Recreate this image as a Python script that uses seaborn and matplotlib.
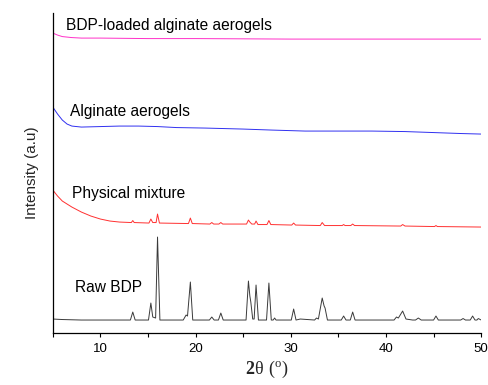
import pandas as pd
import matplotlib
matplotlib.use('Agg')
import matplotlib.pyplot as plt
import seaborn as sns

# XRD patterns (2theta in degrees, intensity in arbitrary units)
raw_2theta = [5, 6, 8, 10, 12,
              13.15, 13.4, 13.65, 15.05, 15.3, 15.5, 15.8, 16.0, 16.25,
              18.7, 19.0, 19.15, 19.45, 19.7, 21.45, 21.7, 21.95, 22.4, 22.65, 22.9,
              25.3, 25.55, 25.7, 25.8, 26.0, 26.15, 26.35, 26.6, 27.45, 27.7, 27.95,
              28.15, 28.3, 28.45, 30.05, 30.3, 30.55, 31.0, 32.5, 32.7, 32.9,
              33.3, 33.5, 33.6, 33.85, 35.3, 35.55, 35.8, 36.25, 36.5, 36.75,
              40.85, 41.1, 41.3, 41.75, 42.1, 42.8, 43.1, 43.4, 43.7, 45.0, 45.25, 45.5,
              47.85, 48.1, 48.35, 48.85, 49.1, 49.35, 49.55, 49.7, 50]
raw_int = [14, 13.5, 13, 13, 13,
           13, 21, 13, 13, 30, 16, 15, 96, 13,
           13, 18, 17, 51, 13, 13, 16, 13, 13, 20, 13,
           13, 52, 37, 31, 14, 14, 48, 13, 13, 50, 13,
           13, 15, 13, 13, 24, 13, 14, 13, 15, 14,
           35, 27, 25, 13, 13, 17, 13, 13, 21, 13,
           13, 16, 15, 22, 14, 13, 13, 15, 13, 13, 17, 13,
           13, 14.5, 13, 13, 17, 13, 13, 14.5, 13]

mix_2theta = [5, 5.5, 6, 7, 8, 9, 10, 11, 12, 13.25, 13.4, 13.55,
              15.1, 15.3, 15.5, 15.85, 16.0, 16.2, 19.25, 19.45, 19.65,
              21.5, 21.7, 21.9, 22.45, 22.65, 22.85, 25.35, 25.55, 25.7, 25.9,
              26.2, 26.35, 26.55, 27.5, 27.7, 27.9, 30.1, 30.3, 30.5,
              33.1, 33.3, 33.55, 35.4, 35.55, 35.7, 36.3, 36.5, 36.7,
              41.55, 41.75, 42.0, 45.1, 45.25, 45.4, 50]
mix_int = [143, 137, 132, 126, 121, 117, 114, 112, 111, 110.5, 112.5, 110.5,
           110, 114, 110.5, 110.5, 119, 110, 109.5, 115, 109.5,
           109, 110.5, 109, 109, 110.5, 109, 109, 113, 111, 109,
           109, 112, 108.5, 108.5, 112.5, 108.5, 108, 110, 108,
           107.5, 110.5, 107.5, 107.5, 108.5, 107.5, 107.5, 109, 107.5,
           107, 108.5, 107, 106.5, 107.5, 106.5, 106]

alg_2theta = [5, 5.5, 6, 6.5, 7, 8, 10, 12, 14, 16, 18, 21, 25, 28, 31.5, 35, 38.5, 42, 45, 48, 50]
alg_int = [226, 219, 213, 209, 207, 206, 206.5, 207, 207, 206.5, 205.5, 205, 204, 203, 202,
           202, 202, 201.5, 200.5, 199.5, 199]

load_2theta = [5, 5.5, 6, 7, 8, 10, 15, 20, 30, 40, 50]
load_int = [300, 298, 296.5, 295.5, 295, 295, 294.5, 294.5, 294, 294, 294]

names = ['Raw BDP', 'Physical mixture', 'Alginate aerogels', 'BDP-loaded alginate aerogels']
colors = ['#3a3a3a', '#ff3030', '#3030f0', '#ff30c8']

frames = []
for name, x, y in zip(names, [raw_2theta, mix_2theta, alg_2theta, load_2theta],
                      [raw_int, mix_int, alg_int, load_int]):
    frames.append(pd.DataFrame({'2theta': x, 'intensity': y, 'sample': name}))
df = pd.concat(frames, ignore_index=True)

sns.set_style('ticks')
plt.rcParams['font.family'] = ['Liberation Sans', 'DejaVu Sans']
plt.rcParams['mathtext.fontset'] = 'custom'
plt.rcParams['mathtext.rm'] = 'Liberation Serif'
plt.rcParams['mathtext.bf'] = 'Liberation Serif:bold'

fig = plt.figure(figsize=(4.89, 3.85), dpi=100)
ax = fig.add_axes([0.108, 0.135, 0.876, 0.831])

sns.lineplot(data=df, x='2theta', y='intensity', hue='sample', palette=dict(zip(names, colors)),
             estimator=None, sort=False, linewidth=0.7, legend=False, ax=ax)

# curve labels
label_pos = [(7.3, 46), (7.0, 140), (6.8, 222), (6.4, 308)]
for name, (lx, ly) in zip(names, label_pos):
    ax.text(lx, ly, name, fontsize=11.2, ha='left', va='center', color='black')

ax.set_xlim(5, 50)
ax.set_ylim(0, 320)
ax.set_xticks([5, 10, 15, 20, 25, 30, 35, 40, 45, 50])
ax.set_xticklabels(['', '10', '', '20', '', '30', '', '40', '', '50'], fontsize=9.5)
ax.set_yticks([])
ax.tick_params(axis='x', direction='out', length=3, width=0.8, colors='black', pad=4)
sns.despine(ax=ax)
ax.spines['left'].set_color('black')
ax.spines['bottom'].set_color('black')
ax.spines['left'].set_linewidth(0.9)
ax.spines['bottom'].set_linewidth(0.9)

ax.set_xlabel(r'$\mathbf{2}\mathrm{\theta}\ (^{\mathrm{o}})$', fontsize=13, labelpad=3)
ax.set_ylabel('Intensity (a.u)', fontsize=11, labelpad=10)

fig.savefig('out.png', dpi=100)
